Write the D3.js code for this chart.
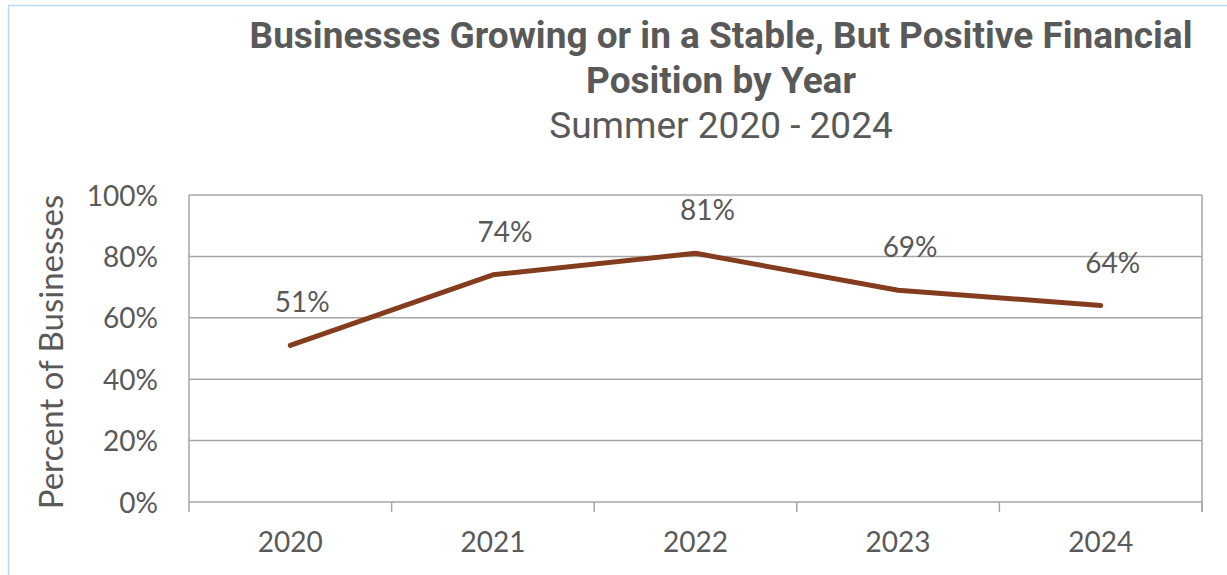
<!DOCTYPE html>
<html>
<head>
<meta charset="utf-8">
<script src="https://cdn.jsdelivr.net/npm/d3@7"></script>
<style>
  body { margin: 0; background: #fff; }
  svg { display: block; }
  .tick-text { font-family: Lato, "Open Sans", sans-serif; font-size: 28px; fill: #595959; }
</style>
</head>
<body>
<div id="chart"></div>
<script>
var years = ["2020", "2021", "2022", "2023", "2024"];
var percents = [51, 74, 81, 69, 64];
var yTicks = [0, 20, 40, 60, 80, 100];

var svgWidth = 1227;
var svgHeight = 575;
var margin = { top: 195, right: 25, bottom: 73, left: 189 };
var width = 1202 - margin.left;
var height = 502 - margin.top;

var svg = d3.select("#chart")
    .append("svg")
    .attr("width", svgWidth)
    .attr("height", svgHeight);

// light blue frame round the chart
svg.append("rect")
    .attr("x", 8.5)
    .attr("y", 5.5)
    .attr("width", svgWidth + 20)
    .attr("height", svgHeight + 20)
    .attr("fill", "none")
    .attr("stroke", "#BDD7EE")
    .attr("stroke-width", 1.5);

// titles
svg.append("text")
    .attr("x", 721).attr("y", 48)
    .attr("text-anchor", "middle")
    .style("font-family", "Roboto, sans-serif")
    .style("font-weight", "bold")
    .style("font-size", "37px")
    .style("fill", "#595959")
    .text("Businesses Growing or in a Stable, But Positive Financial");
svg.append("text")
    .attr("x", 721).attr("y", 93)
    .attr("text-anchor", "middle")
    .style("font-family", "Roboto, sans-serif")
    .style("font-weight", "bold")
    .style("font-size", "37px")
    .style("fill", "#595959")
    .text("Position by Year");
svg.append("text")
    .attr("x", 721).attr("y", 138)
    .attr("text-anchor", "middle")
    .style("font-family", "Roboto, sans-serif")
    .style("font-size", "37px")
    .style("fill", "#595959")
    .text("Summer 2020 - 2024");

var chart = svg.append("g")
    .attr("transform", "translate(" + margin.left + "," + margin.top + ")");

var xScale = d3.scaleBand().domain(years).range([0, width]);
var yScale = d3.scaleLinear().domain([0, 100]).range([height, 0]);

// gridlines
chart.append("g")
    .selectAll("line")
    .data(yTicks)
    .enter()
    .append("line")
    .attr("x1", 0)
    .attr("x2", width)
    .attr("y1", function(d) { return yScale(d); })
    .attr("y2", function(d) { return yScale(d); })
    .attr("stroke", "#A6A6A6")
    .attr("stroke-width", 1.5);

// right border of plot
chart.append("line")
    .attr("x1", width).attr("x2", width)
    .attr("y1", 0).attr("y2", height + 10)
    .attr("stroke", "#A6A6A6")
    .attr("stroke-width", 1.5);

// y axis
var yAxis = d3.axisLeft(yScale)
    .tickValues(yTicks)
    .tickSize(0)
    .tickPadding(31)
    .tickFormat(function(d) { return d + "%"; });
var yG = chart.append("g").call(yAxis);
yG.select(".domain")
    .attr("stroke", "#A6A6A6")
    .attr("stroke-width", 1.5)
    .attr("d", "M0,0V" + (height + 10));
yG.selectAll("text")
    .attr("class", "tick-text")
    .attr("dy", "0.36em")
    .style("font-family", null)
    .style("font-size", null);

// x axis with ticks on category boundaries
var xAxis = d3.axisBottom(xScale).tickSize(0).tickPadding(30);
var xG = chart.append("g")
    .attr("transform", "translate(0," + height + ")")
    .call(xAxis);
xG.select(".domain").remove();
xG.selectAll("text")
    .attr("class", "tick-text")
    .attr("dy", "0.71em");
xG.selectAll(".boundary")
    .data(years.slice(1).concat(["end"]))
    .enter()
    .append("line")
    .attr("x1", function(d, i) { return xScale.step() * (i + 1); })
    .attr("x2", function(d, i) { return xScale.step() * (i + 1); })
    .attr("y1", 0)
    .attr("y2", 10)
    .attr("stroke", "#A6A6A6")
    .attr("stroke-width", 1.5);

// y axis label
svg.append("text")
    .attr("transform", "rotate(-90)")
    .attr("x", -352)
    .attr("y", 63)
    .attr("text-anchor", "middle")
    .attr("class", "tick-text")
    .style("font-size", "33px")
    .text("Percent of Businesses");

// line
var line = d3.line()
    .x(function(d, i) { return xScale(years[i]) + xScale.bandwidth() / 2; })
    .y(function(d) { return yScale(d); });

chart.append("path")
    .datum(percents)
    .attr("d", line)
    .attr("fill", "none")
    .attr("stroke", "#843C1F")
    .attr("stroke-width", 5)
    .attr("stroke-linecap", "round")
    .attr("stroke-linejoin", "round");

// data labels
chart.append("g")
    .selectAll("text")
    .data(percents)
    .enter()
    .append("text")
    .attr("class", "tick-text")
    .attr("text-anchor", "middle")
    .attr("x", function(d, i) { return xScale(years[i]) + xScale.bandwidth() / 2 + 12; })
    .attr("y", function(d) { return yScale(d) - 33; })
    .text(function(d) { return d + "%"; });
</script>
</body>
</html>
